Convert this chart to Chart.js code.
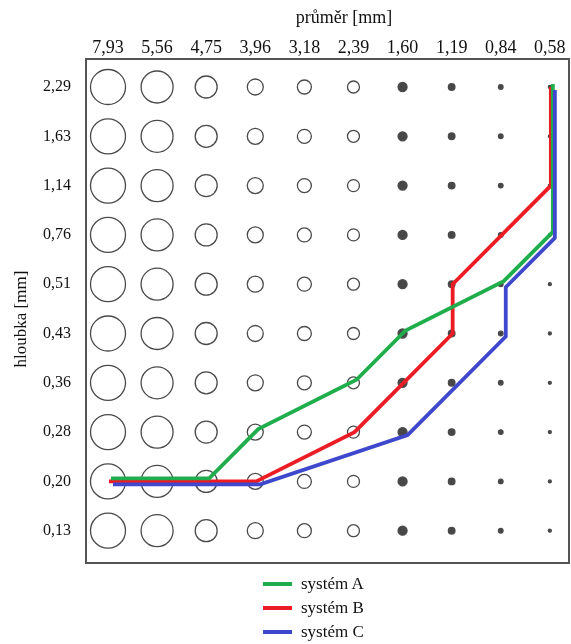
<!DOCTYPE html>
<html><head><meta charset="utf-8">
<script src="https://cdn.jsdelivr.net/npm/chart.js@4/dist/chart.umd.min.js"></script>
<style>
html,body{margin:0;padding:0;background:#fff;}
#wrap{position:relative;width:571px;height:644px;}
canvas{display:block;}
#legend{position:absolute;left:263px;top:572px;font-family:"Liberation Serif",serif;font-size:17px;color:#111;}
.item{height:24px;display:flex;align-items:center;white-space:nowrap;}
.sw{width:29px;height:4px;margin-right:9px;}
</style></head><body>
<div id="wrap"><canvas id="c" width="571" height="644"></canvas><div id="legend"></div></div>
<script>
const diameters = ['7,93','5,56','4,75','3,96','3,18','2,39','1,60','1,19','0,84','0,58'];
const depths = ['2,29','1,63','1,14','0,76','0,51','0,43','0,36','0,28','0,20','0,13'];
const xTitle = 'průměr [mm]';
const yTitle = 'hloubka [mm]';
const circleRadius = [17.5,16,11,8,7,6,4.5,3.3,2.3,1.5];
const circleFilled = [false,false,false,false,false,false,true,true,true,true];
const systemA = [['7,93','0,20'],['4,75','0,20'],['3,96','0,28'],['2,39','0,36'],['1,60','0,43'],['0,84','0,51'],['0,58','0,76'],['0,58','2,29']];
const systemB = [['7,93','0,20'],['3,96','0,20'],['2,39','0,28'],['1,19','0,43'],['1,19','0,51'],['0,58','1,14'],['0,58','2,29']];
const systemC = [['7,93','0,20'],['3,96','0,20'],['1,60','0,28'],['0,84','0,43'],['0,84','0,51'],['0,58','0,76'],['0,58','2,29']];

const toPts = arr => arr.map(([d,h]) => ({x: diameters.indexOf(d), y: depths.indexOf(h)}));
const grid = [];
depths.forEach((h,j) => diameters.forEach((d,i) => grid.push({x:i, y:j, r:circleRadius[i]})));

const FONT = '"Liberation Serif", serif';
const lineDs = (label, pts, color, order, dx, dy) => ({
  type:'line', label, data: toPts(pts), borderColor: color, backgroundColor: color,
  borderWidth: 3.8, pointRadius: 0, tension: 0, order, nudge:{dx,dy}, borderJoinStyle:'miter', borderCapStyle:'butt'
});
const datasets = [
  lineDs('systém A', systemA, '#1fae4b', 1, 3, -3),
  lineDs('systém B', systemB, '#ec1c24', 2, 1, 0),
  lineDs('systém C', systemC, '#3f48cc', 0, 5, 3),
  {type:'bubble', label:'grid', data: grid, order: 5,
   borderColor:'#4a4a4a', borderWidth:1.3,
   backgroundColor: ctx => (ctx.raw && circleFilled[ctx.raw.x]) ? '#474747' : 'rgba(0,0,0,0)'}
];

const nudgePlugin = {
  id:'nudge',
  beforeDatasetDraw(chart, args){ const n = chart.data.datasets[args.index].nudge; chart.ctx.save(); if(n) chart.ctx.translate(n.dx, n.dy); },
  afterDatasetDraw(chart){ chart.ctx.restore(); }
};
const framePlugin = {
  id:'frame',
  afterDraw(chart){
    const {ctx, chartArea:a} = chart;
    ctx.save();
    ctx.strokeStyle = '#555'; ctx.lineWidth = 2;
    ctx.strokeRect(a.left, a.top, a.right - a.left, a.bottom - a.top);
    ctx.fillStyle = '#111';
    ctx.textAlign = 'center'; ctx.textBaseline = 'middle';
    ctx.font = '18px ' + FONT;
    ctx.fillText(xTitle, 344, 18);
    ctx.font = '17px ' + FONT;
    ctx.translate(22, 319); ctx.rotate(-Math.PI/2);
    ctx.fillText(yTitle, 0, 0);
    ctx.restore();
  }
};

new Chart(document.getElementById('c'), {
  data: {datasets},
  options: {
    responsive:false, animation:false, devicePixelRatio:1,
    layout:{autoPadding:false, padding:{left:0, top:0, right:2, bottom:81}},
    plugins:{legend:{display:false}, tooltip:{enabled:false}},
    scales:{
      x:{type:'linear', position:'top', min:-0.448, max:9.39,
        afterBuildTicks: s => { s.ticks = diameters.map((_,i)=>({value:i})); },
        afterFit: s => { s.height = 59; s.paddingLeft = 0; s.paddingRight = 0; },
        ticks:{callback: v => diameters[v], padding:0, color:'#111', font:{family:FONT, size:18}, maxRotation:0, autoSkip:false},
        grid:{display:false, drawTicks:false}, border:{display:false}},
      y:{type:'linear', reverse:true, min:-0.568, max:9.655,
        afterBuildTicks: s => { s.ticks = depths.map((_,i)=>({value:i})); },
        afterFit: s => { s.width = 86; s.paddingTop = 0; s.paddingBottom = 0; },
        ticks:{callback: v => depths[v], padding:15, color:'#111', font:{family:FONT, size:16}, autoSkip:false},
        title:{display:false, text:yTitle},
        grid:{display:false, drawTicks:false}, border:{display:false}}
    }
  },
  plugins:[nudgePlugin, framePlugin]
});

const leg = document.getElementById('legend');
datasets.filter(d => d.type === 'line').forEach(d => {
  const it = document.createElement('div'); it.className = 'item';
  const sw = document.createElement('span'); sw.className = 'sw'; sw.style.background = d.borderColor;
  const tx = document.createElement('span'); tx.textContent = d.label;
  it.appendChild(sw); it.appendChild(tx); leg.appendChild(it);
});
</script>
</body></html>
